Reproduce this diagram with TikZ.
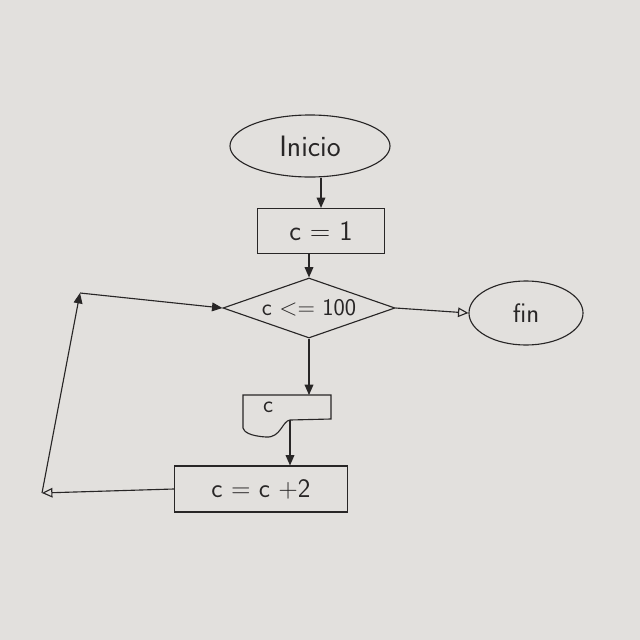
\documentclass[tikz,border=0pt]{standalone}
\usepackage{fontspec}
\usepackage{tikz}
\usetikzlibrary{calc}
\usetikzlibrary{arrows.meta}
\usetikzlibrary{shapes.geometric}

\definecolor{paper}{RGB}{226,224,221}
\definecolor{ink}{RGB}{40,38,38}

\tikzset{
	box/.style = {draw = ink, line width = 0.8pt, rectangle, inner sep = 0pt},
	oval/.style = {draw = ink, line width = 0.8pt, ellipse, inner sep = 0pt},
	flow/.style = {draw = ink, line width = 0.8pt, -{Triangle[length = 2.6mm, width = 2.2mm]}},
	openflow/.style = {draw = ink, line width = 0.8pt, -{Triangle[open, length = 2.6mm, width = 2.4mm]}},
}

\begin{document}
\begin{tikzpicture}[x = 0.025cm, y = -0.025cm, text = ink]

	% paper
	\fill [paper] (0,0) rectangle (640,640);
	\useasboundingbox (0,0) rectangle (640,640);

	% start and end
	\node [oval, minimum width = 4cm, minimum height = 1.55cm, font = \sffamily\fontsize{21}{24}\selectfont] (inicio) at (310,146) {Inicio};
	\node [oval, minimum width = 2.85cm, minimum height = 1.6cm, font = \sffamily\fontsize{19}{22}\selectfont] (fin) at (526,313) {fin};

	% assignment and test
	\node [box, minimum width = 3.175cm, minimum height = 1.125cm, font = \sffamily\fontsize{20}{22}\selectfont] (init) at (321,231) {c = 1};
	\node [draw = ink, line width = 0.8pt, diamond, aspect = 3, inner sep = 0pt, minimum width = 4.3cm, minimum height = 1.5cm, font = \sffamily\fontsize{17}{20}\selectfont] (test) at (309,308) {c <= 100};

	% output (document shape)
	\def \docLeft {243};
	\def \docRight {331};
	\def \docTop {395};
	\coordinate (docIn) at (309,\docTop);
	\coordinate (docOut) at (290,420);
	\draw [ink, line width = 0.8pt] (\docLeft,\docTop) -- (\docRight,\docTop) -- (\docRight,419) -- (290,420)
		.. controls (282,421) and (281,438) .. (266,437)
		.. controls (250,436) and (244,432) .. (\docLeft,428) -- cycle;
	\node [font = \sffamily\fontsize{17}{20}\selectfont] (out) at (268,407) {c};

	% increment
	\node [box, minimum width = 4.325cm, minimum height = 1.15cm, font = \sffamily\fontsize{19}{22}\selectfont] (step) at (261,489) {c = c +2};

	% main flow
	\draw [flow] (init.north |- inicio.south) -- (init.north);
	\draw [flow] (test.north |- init.south) -- (test.north);
	\draw [flow] (test.south) -- (docIn);
	\draw [flow] (docOut) -- (step.north -| docOut);
	\draw [openflow] (test.east) -- (fin.west);

	% loop back
	\coordinate (loopLow) at (42,493);
	\coordinate (loopHigh) at (80,293);
	\draw [openflow] (step.west) -- (loopLow);
	\draw [flow] (loopLow) -- (loopHigh);
	\draw [flow] (loopHigh) -- (test.west);

\end{tikzpicture}
\end{document}
